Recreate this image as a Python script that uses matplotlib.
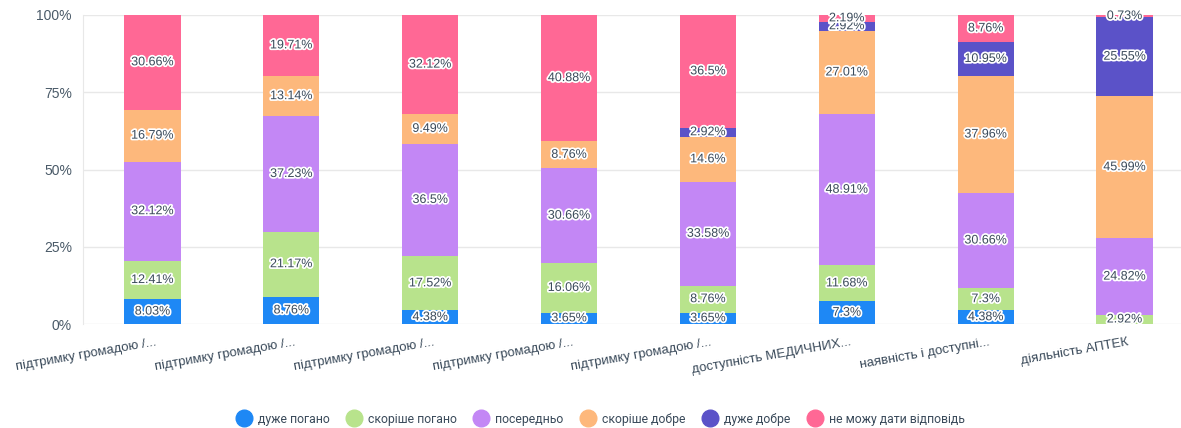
import numpy as np
import matplotlib
matplotlib.use("Agg")
import matplotlib.pyplot as plt
import matplotlib.patheffects as pe
from matplotlib.lines import Line2D

plt.rcParams['font.family'] = ['Liberation Sans', 'DejaVu Sans']

# --------------------------------------------------------
# Data
# --------------------------------------------------------
categories = [
    "підтримку громадою /...",
    "підтримку громадою /...",
    "підтримку громадою /...",
    "підтримку громадою /...",
    "підтримку громадою /...",
    "доступність МЕДИЧНИХ...",
    "наявність і доступні...",
    "діяльність АПТЕК",
]
series_names = ["дуже погано", "скоріше погано", "посередньо",
                "скоріше добре", "дуже добре", "не можу дати відповідь"]

very_bad = [8.03, 8.76, 4.38, 3.65, 3.65, 7.3, 4.38, 0]
rather_bad = [12.41, 21.17, 17.52, 16.06, 8.76, 11.68, 7.3, 2.92]
average = [32.12, 37.23, 36.5, 30.66, 33.58, 48.91, 30.66, 24.82]
rather_good = [16.79, 13.14, 9.49, 8.76, 14.6, 27.01, 37.96, 45.99]
very_good = [0, 0, 0, 0, 2.92, 2.92, 10.95, 25.55]
no_answer = [30.66, 19.71, 32.12, 40.88, 36.5, 2.19, 8.76, 0.73]

colors = ["#1e88f5", "#b8e38c", "#c387f5", "#fdb87c", "#5b52c8", "#ff6895"]

series = [very_bad, rather_bad, average, rather_good, very_good, no_answer]

# --------------------------------------------------------
# Plot
# --------------------------------------------------------
fig = plt.figure(figsize=(11.81, 4.28), dpi=100)
ax = fig.add_axes([83 / 1181, 1 - 324 / 428, (1194 - 83) / 1181, (324 - 15) / 428])

x = np.arange(len(categories))
bottom = np.zeros(len(categories))
label_color = "#3a4a5a"
outline = [pe.withStroke(linewidth=2.5, foreground="white")]

for vals, col in zip(series, colors):
    vals = np.array(vals, dtype=float)
    ax.bar(x, vals, bottom=bottom, width=0.405, color=col, zorder=3)
    for xi, b, v in zip(x, bottom, vals):
        if v > 0:
            ax.text(xi, b + v / 2, f"{v:g}%", ha="center", va="center",
                    fontsize=9, color=label_color, path_effects=outline, zorder=5)
    bottom += vals

ax.set_xlim(-0.5, len(categories) - 0.5)
ax.set_ylim(0, 100)
ax.set_yticks([0, 25, 50, 75, 100])
ax.set_yticklabels(["0%", "25%", "50%", "75%", "100%"])
ax.yaxis.grid(True, color="#e8e8e8", linewidth=1, zorder=0)
ax.tick_params(axis="y", length=0, pad=8, labelsize=10, labelcolor="#4a5a68")
ax.tick_params(axis="x", length=0)
for s in ["top", "right", "bottom"]:
    ax.spines[s].set_visible(False)
ax.spines["left"].set_color("#e8e8e8")

ax.set_xticks(x)
ax.set_xticklabels([])
for xi, lab in zip(x, categories):
    ax.annotate(lab, xy=(xi, 0), xycoords=("data", "axes fraction"),
                xytext=(2, -9), textcoords="offset points",
                ha="right", va="top", rotation=10, rotation_mode="anchor",
                fontsize=9.5, color="#3a4a5a")

handles = [Line2D([0], [0], marker="o", linestyle="none", markersize=12,
                  markerfacecolor=c, markeredgecolor=c) for c in colors]
fig.legend(handles, series_names, loc="center", bbox_to_anchor=(598 / 1181, 1 - 419 / 428),
           ncol=6, frameon=False, handletextpad=0.15, columnspacing=1.0,
           labelcolor="#3a4a5a", prop={'family': ['Roboto'], 'size': 8.8})

fig.savefig("out.png", dpi=100)
